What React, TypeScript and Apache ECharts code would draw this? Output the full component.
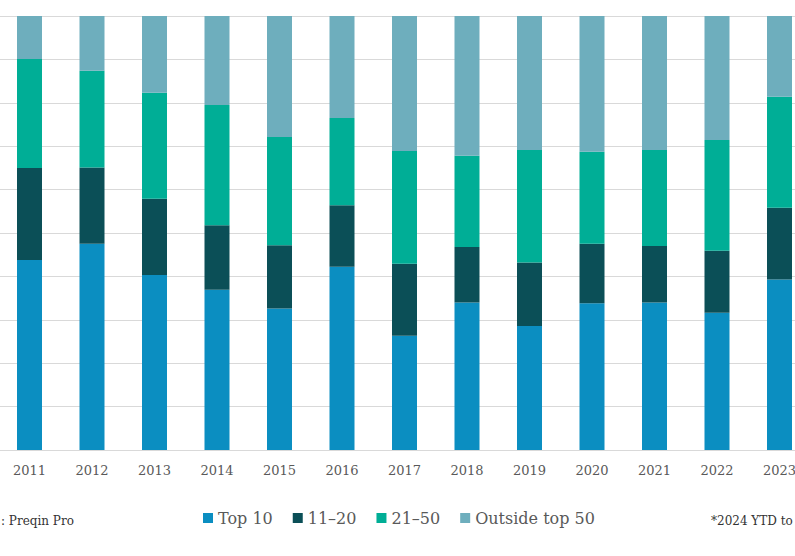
import React, { useEffect, useRef } from "react";
import * as echarts from "echarts";

const years = ["2011", "2012", "2013", "2014", "2015", "2016", "2017", "2018", "2019", "2020", "2021", "2022", "2023"];
const top10 = [43.8, 47.5, 40.3, 36.9, 32.6, 42.2, 26.3, 34.0, 28.6, 33.8, 34.0, 31.6, 39.3];
const rank11to20 = [21.2, 17.6, 17.6, 14.9, 14.6, 14.2, 16.6, 12.8, 14.6, 13.7, 13.0, 14.3, 16.5];
const rank21to50 = [25.1, 22.3, 24.4, 27.7, 24.9, 20.1, 26.0, 21.0, 25.9, 21.2, 22.1, 25.5, 25.6];
const outsideTop50 = [9.9, 12.6, 17.7, 20.5, 27.9, 23.5, 31.1, 32.2, 30.9, 31.3, 30.9, 28.6, 18.6];
const seriesNames = ["Top 10", "11\u201320", "21\u201350", "Outside top 50"];
const colors = ["#0B8EC1", "#0B4F57", "#00AE96", "#6EAEBD"];
const sourceText = ": Preqin Pro";
const footnoteText = "*2024 YTD to";

const OFFSET = 100;
const FONT = "DejaVu Serif";

export default function App() {
  const ref = useRef<HTMLDivElement>(null);
  useEffect(() => {
    if (!ref.current) return;
    const chart = echarts.init(ref.current, undefined, { renderer: "svg" });
    const data = [top10, rank11to20, rank21to50, outsideTop50];
    chart.setOption({
      animation: false,
      grid: { left: 98.25, width: 812.5, top: 16, height: 434, containLabel: false },
      xAxis: {
        type: "category",
        data: years,
        axisLine: { show: true, lineStyle: { color: "#d9d9d9", width: 1 } },
        axisTick: { show: false },
        axisLabel: { color: "#595959", fontFamily: FONT, fontSize: 13, margin: 14 },
      },
      yAxis: {
        type: "value",
        min: 0,
        max: 100,
        interval: 10,
        axisLabel: { show: false },
        axisLine: { show: false },
        axisTick: { show: false },
        splitLine: { lineStyle: { color: "#d9d9d9", width: 1 } },
      },
      legend: {
        left: OFFSET + 203,
        top: 508,
        padding: 0,
        itemWidth: 10,
        itemHeight: 10,
        itemGap: 20,
        icon: "rect",
        data: seriesNames,
        textStyle: { color: "#595959", fontFamily: FONT, fontSize: 16, lineHeight: 20 },
      },
      graphic: [
        {
          type: "text",
          x: OFFSET + 1,
          y: 521,
          style: { text: sourceText, align: "left", verticalAlign: "middle", fill: "#333333", font: `12px "${FONT}"` },
        },
        {
          type: "text",
          x: OFFSET + 711,
          y: 521,
          style: { text: footnoteText, align: "left", verticalAlign: "middle", fill: "#333333", font: `12px "${FONT}"` },
        },
      ],
      series: seriesNames.map((name, i) => ({
        name,
        type: "bar",
        stack: "total",
        barWidth: 25,
        itemStyle: { color: colors[i] },
        data: data[i],
      })),
    });
    return () => chart.dispose();
  }, []);
  return (
    <div style={{ position: "fixed", left: 0, top: 0, width: 795, height: 556, overflow: "hidden", background: "#fff" }}>
      <div ref={ref} style={{ position: "absolute", left: -OFFSET, top: 0, width: 1000, height: 556 }} />
    </div>
  );
}
